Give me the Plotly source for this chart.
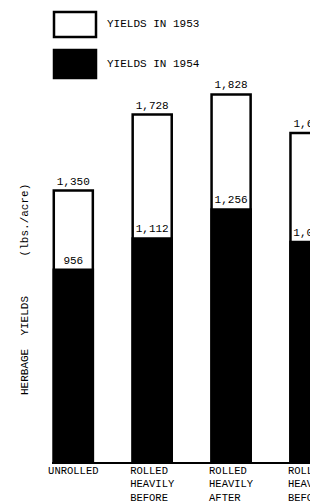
import plotly.graph_objects as go

# ---- data ----
categories = ["UNROLLED", "ROLLED HEAVILY BEFORE", "ROLLED HEAVILY AFTER", "ROLLED HEAVILY BEFORE"]
yields_1953 = [1350, 1728, 1828, 1636]
yields_1954 = [956, 1112, 1256, 1094]
series_names = ["YIELDS IN 1953", "YIELDS IN 1954"]
y_title = "HERBAGE  YIELDS      (lbs./acre)"

FONT = "Liberation Mono, Courier New, monospace"
W, H = 310, 502
ML, MR, MT, MB = 52, 0, 80, 40
PW, PH = W - ML - MR, H - MT - MB


def px_x(p):
    return (p - ML) / PW


def px_y(p):
    return (H - MB - p) / PH


def make_label(name):
    words = name.split()
    n = max(len(w) for w in words)
    return "<br>".join(w + "\u00a0" * (n - len(w)) for w in words)


ticktext = [make_label(c) for c in categories]
xs = list(range(len(categories)))

fig = go.Figure()
fig.add_trace(go.Bar(
    x=xs, y=yields_1953, name=series_names[0], width=0.495,
    marker=dict(color="white", line=dict(color="black", width=2.5)),
    text=[f"{v:,}" for v in yields_1953], textposition="outside",
    textfont=dict(family=FONT, size=11, color="black"),
    constraintext="none", cliponaxis=False, showlegend=False,
))
fig.add_trace(go.Bar(
    x=xs, y=yields_1954, name=series_names[1], width=0.495,
    marker=dict(color="black", line=dict(color="black", width=2.5)),
    text=[f"{v:,}" for v in yields_1954], textposition="outside",
    textfont=dict(family=FONT, size=11, color="black"),
    constraintext="none", cliponaxis=False, showlegend=False,
))

# legend boxes (drawn manually to match the large swatches)
fig.add_shape(type="rect", xref="paper", yref="paper",
              x0=px_x(54), x1=px_x(96), y0=px_y(37), y1=px_y(12),
              line=dict(color="black", width=2.5), fillcolor="white")
fig.add_shape(type="rect", xref="paper", yref="paper",
              x0=px_x(54), x1=px_x(96), y0=px_y(78), y1=px_y(50),
              line=dict(color="black", width=2.5), fillcolor="black")
for name, yc in zip(series_names, [24, 64]):
    fig.add_annotation(text=name, xref="paper", yref="paper",
                       x=px_x(105), y=px_y(yc), xanchor="left", yanchor="middle",
                       showarrow=False, font=dict(family=FONT, size=11, color="black"))

fig.add_annotation(text=y_title.replace(" ", "\u00a0"), xref="paper", yref="paper",
                   x=px_x(25), y=px_y(290), textangle=-90,
                   xanchor="center", yanchor="middle", showarrow=False,
                   font=dict(family=FONT, size=11, color="black"))

fig.update_layout(
    width=W, height=H,
    margin=dict(l=ML, r=MR, t=MT, b=MB, pad=0, autoexpand=False),
    barmode="overlay",
    paper_bgcolor="white", plot_bgcolor="white",
    showlegend=False,
    xaxis=dict(range=[-0.27, 3.0], tickvals=xs, ticktext=ticktext,
               showline=True, linecolor="black", linewidth=2,
               ticks="", showgrid=False, zeroline=False,
               ticklabelstandoff=-3, ticklabeloverflow="allow",
               automargin=False,
               tickfont=dict(family=FONT, size=10.5, color="black"),
               fixedrange=True),
    yaxis=dict(range=[0, 1900], visible=False, showgrid=False, zeroline=False,
               automargin=False, fixedrange=True),
)

fig.write_html("out.html")
